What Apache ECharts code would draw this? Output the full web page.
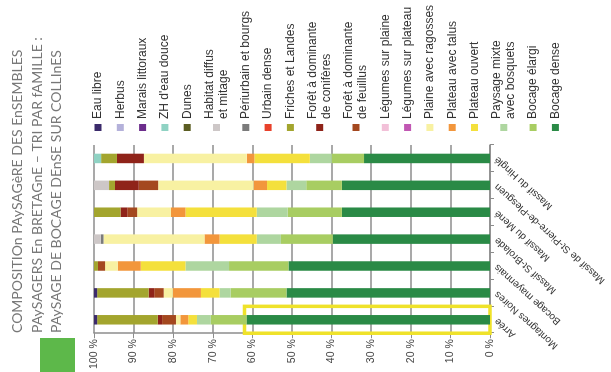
<!DOCTYPE html>
<html>
<head>
<meta charset="utf-8">
<script src="https://cdn.jsdelivr.net/npm/echarts@6/dist/echarts.min.js"></script>
<style>
  html, body { margin: 0; padding: 0; background: #fff; overflow: hidden; }
  #wrap { width: 611px; height: 372px; position: relative; overflow: hidden; }
  /* the source page is printed sideways: draw it upright, then turn it */
  #chart {
    position: absolute; left: 0; top: 0;
    width: 372px; height: 611px;
    transform-origin: 0 0;
    transform: translate(0, 372px) rotate(-90deg);
  }
</style>
</head>
<body>
<div id="wrap"><div id="chart"></div></div>
<script>
// massifs, left to right on the upright chart
var massifs = ['Arrée', 'Montagnes Noires', 'Bocage mayennais', 'Massif St-Brolade',
    'Massif du Mené', 'Massif de St-Pierre-de-Plesguen', 'Massif du Hinglé'];

// legend order (top of the stack first)
var families = ['Eau libre', 'Herbus', 'Marais littoraux', "ZH d'eau douce", 'Dunes',
    'Habitat diffus\net mitage', 'Périurbain et bourgs', 'Urbain dense', 'Friches et Landes',
    'Forêt à dominante\nde conifères', 'Forêt à dominante\nde feuillus', 'Légumes sur plaine',
    'Légumes sur plateau', 'Plaine avec ragosses', 'Plateau avec talus', 'Plateau ouvert',
    'Paysage mixte\navec bosquets', 'Bocage élargi', 'Bocage dense'];

var colors = ['#3b2a6b', '#b4b1da', '#6c2d8c', '#8fd2c3', '#5b5d22',
    '#cdc7c7', '#7b7b7b', '#e8412b', '#a3a52e',
    '#8f2319', '#a4481f', '#f2c0d8',
    '#c157b3', '#f8f1a2', '#f2963c', '#f4e03c',
    '#aed6a0', '#a8cd62', '#2a8a46'];

// shares in %, one array per family, same order as massifs
var eauLibre = [0.8, 0.8, 0, 0, 0, 0, 0];
var herbus = [0, 0, 0, 0, 0, 0, 0];
var marais = [0, 0, 0, 0, 0, 0, 0];
var zhDouce = [0, 0, 0, 0, 0, 0, 1.8];
var dunes = [0, 0, 0, 0, 0, 0, 0];
var habitatDiffus = [0, 0, 0, 1.7, 0, 3.8, 0];
var periurbain = [0, 0, 0, 0.7, 0, 0, 0];
var urbainDense = [0, 0, 0, 0, 0, 0, 0];
var friches = [15.3, 13, 1, 0, 6.7, 1.5, 4];
var coniferes = [1.1, 1.4, 0, 0, 1.7, 6, 6.8];
var feuillus = [3.5, 2.4, 1.8, 0, 2.5, 4.9, 0];
var legPlaine = [0, 0, 0, 0, 0, 0, 0];
var legPlateau = [0, 0, 0, 0, 0, 0, 0];
var plaineRagosses = [1.1, 2.3, 3.2, 25.5, 8.5, 24.1, 26];
var plateauTalus = [2, 7.1, 5.8, 3.8, 3.7, 3.4, 1.9];
var plateauOuvert = [2.2, 4.7, 11.3, 9.4, 18, 4.9, 14];
var paysageMixte = [3.5, 2.8, 11, 6.1, 7.8, 5, 5.5];
var bocageElargi = [9, 14.1, 15, 13.1, 13.7, 9, 8.2];
var bocageDense = [61.5, 51.4, 50.9, 39.7, 37.4, 37.4, 31.8];

var values = [eauLibre, herbus, marais, zhDouce, dunes, habitatDiffus, periurbain, urbainDense,
    friches, coniferes, feuillus, legPlaine, legPlateau, plaineRagosses, plateauTalus,
    plateauOuvert, paysageMixte, bocageElargi, bocageDense];

// highlighted bar: Arrée, dense hedgerows
var highlight = { massif: 'Arrée', from: 62, to: 0 };

var titleText = 'COMPOSITIOn PAySAGèRE DES EnSEMBLES\nPAySAGERS En BRETAGnE – TRI PAR fAMILLE :\nPAySAGE DE BOCAGE DEnSE SUR COLLInES';

var series = [];
for (var i = families.length - 1; i >= 0; i--) {
    var s = {
        name: families[i],
        type: 'bar',
        stack: 'total',
        barWidth: 9.5,
        itemStyle: { color: colors[i] },
        data: values[i]
    };
    if (families[i] === 'Bocage dense') {
        s.markArea = {
            silent: true,
            itemStyle: { color: 'rgba(0,0,0,0)', borderColor: '#efe22a', borderWidth: 3.5 },
            data: [[
                { xAxis: highlight.massif, yAxis: highlight.from },
                { xAxis: highlight.massif, yAxis: highlight.to }
            ]]
        };
    }
    series.push(s);
}

var chart = echarts.init(document.getElementById('chart'));
chart.setOption({
    animation: false,
    backgroundColor: '#fff',
    color: colors,
    title: {
        text: titleText,
        left: 34,
        top: 3,
        textStyle: {
            fontFamily: 'Lato',
            fontSize: 14,
            fontWeight: 'normal',
            color: '#777',
            lineHeight: 19.5
        }
    },
    graphic: [{
        type: 'rect',
        shape: { x: 0, y: 40, width: 34, height: 35 },
        style: { fill: '#5db84a' }
    }],
    legend: {
        orient: 'vertical',
        left: 236,
        top: 86,
        itemWidth: 7,
        itemHeight: 7,
        itemGap: 8.3,
        icon: 'rect',
        data: families,
        textStyle: {
            fontFamily: 'Liberation Sans',
            fontSize: 12,
            lineHeight: 14,
            color: '#333'
        }
    },
    grid: {
        left: 37,
        right: 145,
        top: 94,
        bottom: 121
    },
    xAxis: {
        type: 'category',
        data: massifs,
        axisLine: { lineStyle: { color: '#8c8c8c', width: 1.5 } },
        axisTick: { show: true, length: 4, lineStyle: { color: '#8c8c8c' } },
        axisLabel: {
            rotate: 48,
            margin: 6,
            fontFamily: 'Liberation Sans',
            fontSize: 10,
            color: '#333'
        }
    },
    yAxis: {
        type: 'value',
        min: 0,
        max: 100,
        interval: 10,
        axisLine: { show: true, lineStyle: { color: '#8c8c8c', width: 1.5 } },
        axisTick: { show: true, length: 5, lineStyle: { color: '#8c8c8c' } },
        axisLabel: {
            formatter: '{value} %',
            margin: 6,
            fontFamily: 'Liberation Sans',
            fontSize: 10.5,
            color: '#444'
        },
        splitLine: { lineStyle: { color: '#8c8c8c', width: 1.5 } }
    },
    series: series
});
</script>
</body>
</html>
